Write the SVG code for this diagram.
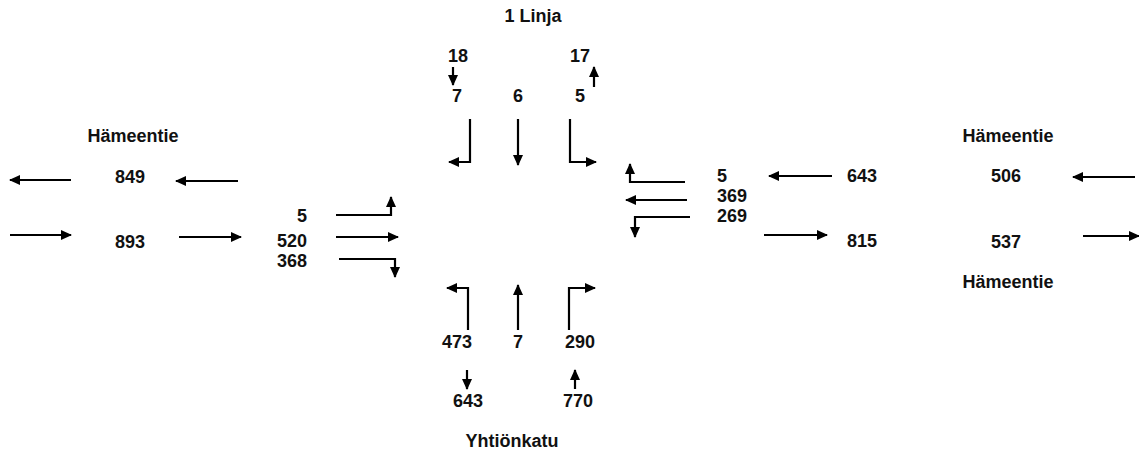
<svg xmlns="http://www.w3.org/2000/svg" width="1139" height="452" viewBox="0 0 1139 452">
<defs>
<marker id="ah" markerUnits="userSpaceOnUse" markerWidth="11" markerHeight="11" refX="10" refY="5.5" orient="auto">
<path d="M0,0.5 L11,5.5 L0,10.5 z" fill="#000"/>
</marker>
<style>
.t{font-family:"Liberation Sans",Arial,sans-serif;font-weight:bold;font-size:18px;fill:#111}
.m{text-anchor:middle}
.e{text-anchor:end}
.c{fill:none;stroke:#000;stroke-width:2.2;marker-end:url(#ah)}
</style>
</defs>
<rect width="1139" height="452" fill="#fff"/>
<g id="labels">
<text class="t m" x="533" y="22">1 Linja</text>
<text class="t m" x="133" y="142">Hämeentie</text>
<text class="t m" x="1008" y="142">Hämeentie</text>
<text class="t m" x="1008" y="288">Hämeentie</text>
<text class="t m" x="512" y="447">Yhtiönkatu</text>
</g>
<g id="north">
<text class="t m" x="458" y="62">18</text>
<text class="t m" x="580" y="62">17</text>
<text class="t m" x="457" y="102">7</text>
<text class="t m" x="518" y="102">6</text>
<text class="t m" x="580" y="102">5</text>
</g>
<g id="west">
<text class="t m" x="130" y="183">849</text>
<text class="t m" x="130" y="248">893</text>
<text class="t e" x="307" y="222">5</text>
<text class="t e" x="307" y="247">520</text>
<text class="t e" x="307" y="267">368</text>
</g>
<g id="east">
<text class="t" x="717" y="182">5</text>
<text class="t" x="717" y="202">369</text>
<text class="t" x="717" y="222">269</text>
<text class="t" x="847" y="182">643</text>
<text class="t" x="847" y="247">815</text>
<text class="t m" x="1006" y="182">506</text>
<text class="t m" x="1006" y="248">537</text>
</g>
<g id="south">
<text class="t m" x="457" y="348">473</text>
<text class="t m" x="518" y="348">7</text>
<text class="t m" x="580" y="348">290</text>
<text class="t m" x="468" y="407">643</text>
<text class="t m" x="578" y="407">770</text>
</g>
<g id="connectors">
<path class="c" d="M453,67 V85"/>
<path class="c" d="M594,87 V67"/>
<path class="c" d="M470,119 V162 H449"/>
<path class="c" d="M518,119 V165"/>
<path class="c" d="M570,119 V162 H596"/>
<path class="c" d="M71,180 H10"/>
<path class="c" d="M238,181 H176"/>
<path class="c" d="M10,235 H71"/>
<path class="c" d="M179,237 H241"/>
<path class="c" d="M336,215 H391 V197"/>
<path class="c" d="M336,237 H398"/>
<path class="c" d="M339,259 H395 V277"/>
<path class="c" d="M685,182 H630 V164"/>
<path class="c" d="M687,200 H626"/>
<path class="c" d="M690,217 H635 V237"/>
<path class="c" d="M832,176 H769"/>
<path class="c" d="M764,235 H827"/>
<path class="c" d="M1135,177 H1073"/>
<path class="c" d="M1083,236 H1139"/>
<path class="c" d="M468,330 V288 H447"/>
<path class="c" d="M518,330 V285"/>
<path class="c" d="M569,330 V288 H595"/>
<path class="c" d="M467,370 V389"/>
<path class="c" d="M575,389 V370"/>
</g>
</svg>
